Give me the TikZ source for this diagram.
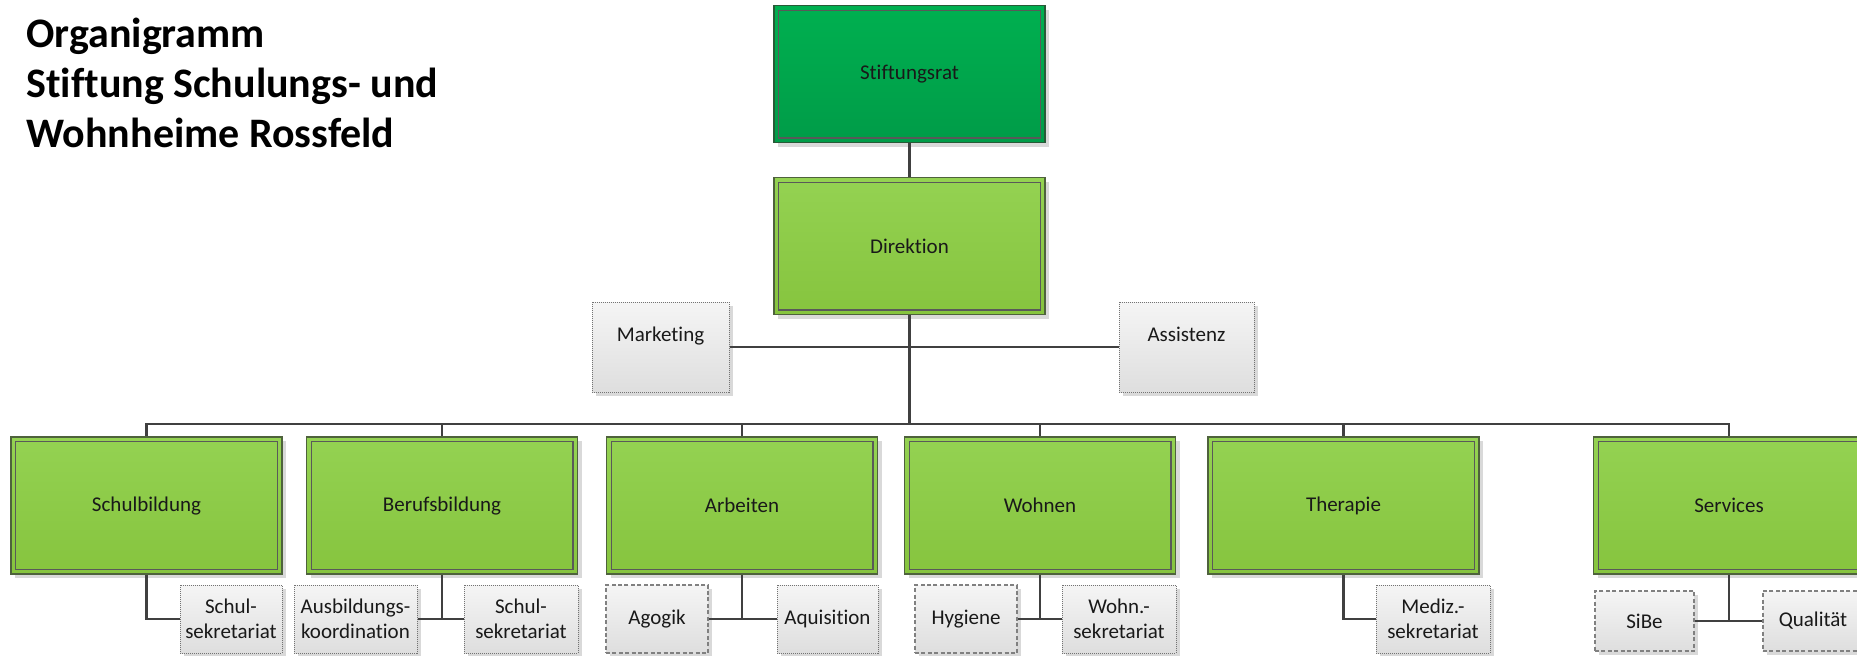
\documentclass[tikz,border=0pt]{standalone}
\usepackage{fontspec}
\setmainfont{Carlito}[Ligatures=NoCommon]
\usetikzlibrary{shadows}
\definecolor{lgtop}{RGB}{148,210,82}
\definecolor{lgbot}{RGB}{134,196,62}
\definecolor{dgtop}{RGB}{0,176,80}
\definecolor{dgbot}{RGB}{0,156,72}
\definecolor{gbtop}{RGB}{245,245,245}
\definecolor{gbbot}{RGB}{222,222,222}
\definecolor{conn}{RGB}{64,64,64}
\definecolor{gborder}{RGB}{78,98,60}
\definecolor{dborder}{RGB}{40,90,55}
\definecolor{shadowc}{RGB}{217,217,217}
\begin{document}
\begin{tikzpicture}[x=0.5pt,y=-0.5pt,
  every node/.style={font=\fontsize{10.5}{12.6}\selectfont, text=black!90, align=center, inner sep=0pt},
  shd/.style={general shadow={fill=shadowc, shadow xshift=2pt, shadow yshift=-2pt}},
  inner frame/.style={path picture={\draw[line width=0.6pt, draw=black!65]
        ([shift={(2.3pt,-2.3pt)}]path picture bounding box.north west) rectangle
        ([shift={(-2.3pt,2.3pt)}]path picture bounding box.south east);}},
  unitbox/.style={rectangle, minimum width=135.5pt, minimum height=68.5pt, draw=gborder,
     line width=0.9pt, top color=lgtop, bottom color=lgbot, shd, inner frame},
  topbox/.style={unitbox, draw=dborder, top color=dgtop, bottom color=dgbot},
  graybox/.style={rectangle, minimum height=34pt, draw=black!55, line width=0.5pt,
     top color=gbtop, bottom color=gbbot, shd},
  dotborder/.style={dash pattern=on 0.5pt off 0.5pt},
  dashborder/.style={dash pattern=on 2pt off 1.2pt, draw=black!50, line width=0.6pt},
  connector/.style={draw=conn, line width=1.35pt},
  titletext/.style={font=\bfseries\fontsize{21}{25}\selectfont, text=black, align=left, anchor=base west}
]
\useasboundingbox (0,0) rectangle (1857,655);

% title
\node[titletext] (title) at (26,147) {Organigramm\\Stiftung Schulungs- und\\Wohnheime Rossfeld};

% top
\node[topbox] (st) at (909.5,74) {Stiftungsrat};
\node[unitbox] (di) at (909.5,246) {Direktion};

% staff
\node[graybox, dotborder, minimum width=68.5pt, minimum height=45pt, text depth=13pt] (mk) at (660.5,347) {Marketing};
\node[graybox, dotborder, minimum width=67.5pt, minimum height=45pt, text depth=13pt] (as) at (1186.5,347) {Assistenz};

% level 2
\node[unitbox] (sb) at (146.5,505.5) {Schulbildung};
\node[unitbox] (bb) at (442,505.5) {Berufsbildung};
\node[unitbox] (ar) at (742,505.5) {Arbeiten};
\node[unitbox] (wo) at (1040,505.5) {Wohnen};
\node[unitbox] (th) at (1343.5,505.5) {Therapie};
\node[unitbox] (se) at (1729,505.5) {Services};

% level 3
\node[graybox, dotborder, minimum width=51pt] (sb1) at (231,619) {Schul-\\sekretariat};
\node[graybox, dotborder, minimum width=61.5pt] (bb1) at (355.5,619) {Ausbildungs-\\koordination};
\node[graybox, dotborder, minimum width=57pt] (bb2) at (521,619) {Schul-\\sekretariat};
\node[graybox, dashborder, minimum width=51pt] (ar1) at (657,619) {Agogik};
\node[graybox, dotborder, minimum width=50.5pt] (ar2) at (827.5,619) {Aquisition};
\node[graybox, dashborder, minimum width=51pt] (wo1) at (966,619) {Hygiene};
\node[graybox, dotborder, minimum width=57pt] (wo2) at (1119,619) {Wohn.-\\sekretariat};
\node[graybox, dotborder, minimum width=57pt] (th1) at (1433,619) {Mediz.-\\sekretariat};
\node[graybox, dashborder, minimum width=49.5pt, minimum height=30pt] (se1) at (1644.5,621) {SiBe};
\node[graybox, dashborder, minimum width=50pt, minimum height=30pt] (se2) at (1813,621) {Qualität};

% connectors
\coordinate (bus) at (909.5,424);
\draw[connector] (st.south) -- (di.north);
\draw[connector] (di.south) -- (bus);
\draw[connector] (mk.east) -- (as.west);
\draw[connector] (sb.north) -- (sb.north |- bus) -- (se.north |- bus) -- (se.north);
\draw[connector] (bb.north) -- (bb.north |- bus);
\draw[connector] (ar.north) -- (ar.north |- bus);
\draw[connector] (wo.north) -- (wo.north |- bus);
\draw[connector] (th.north) -- (th.north |- bus);

\draw[connector] (sb.south) |- (sb1.west);
\draw[connector] (bb1.east) -- (bb2.west);
\draw[connector] (bb.south) -- (bb.south |- bb1.east);
\draw[connector] (ar1.east) -- (ar2.west);
\draw[connector] (ar.south) -- (ar.south |- ar1.east);
\draw[connector] (wo1.east) -- (wo2.west);
\draw[connector] (wo.south) -- (wo.south |- wo1.east);
\draw[connector] (th.south) |- (th1.west);
\draw[connector] (se1.east) -- (se2.west);
\draw[connector] (se.south) -- (se.south |- se1.east);
\end{tikzpicture}
\end{document}
